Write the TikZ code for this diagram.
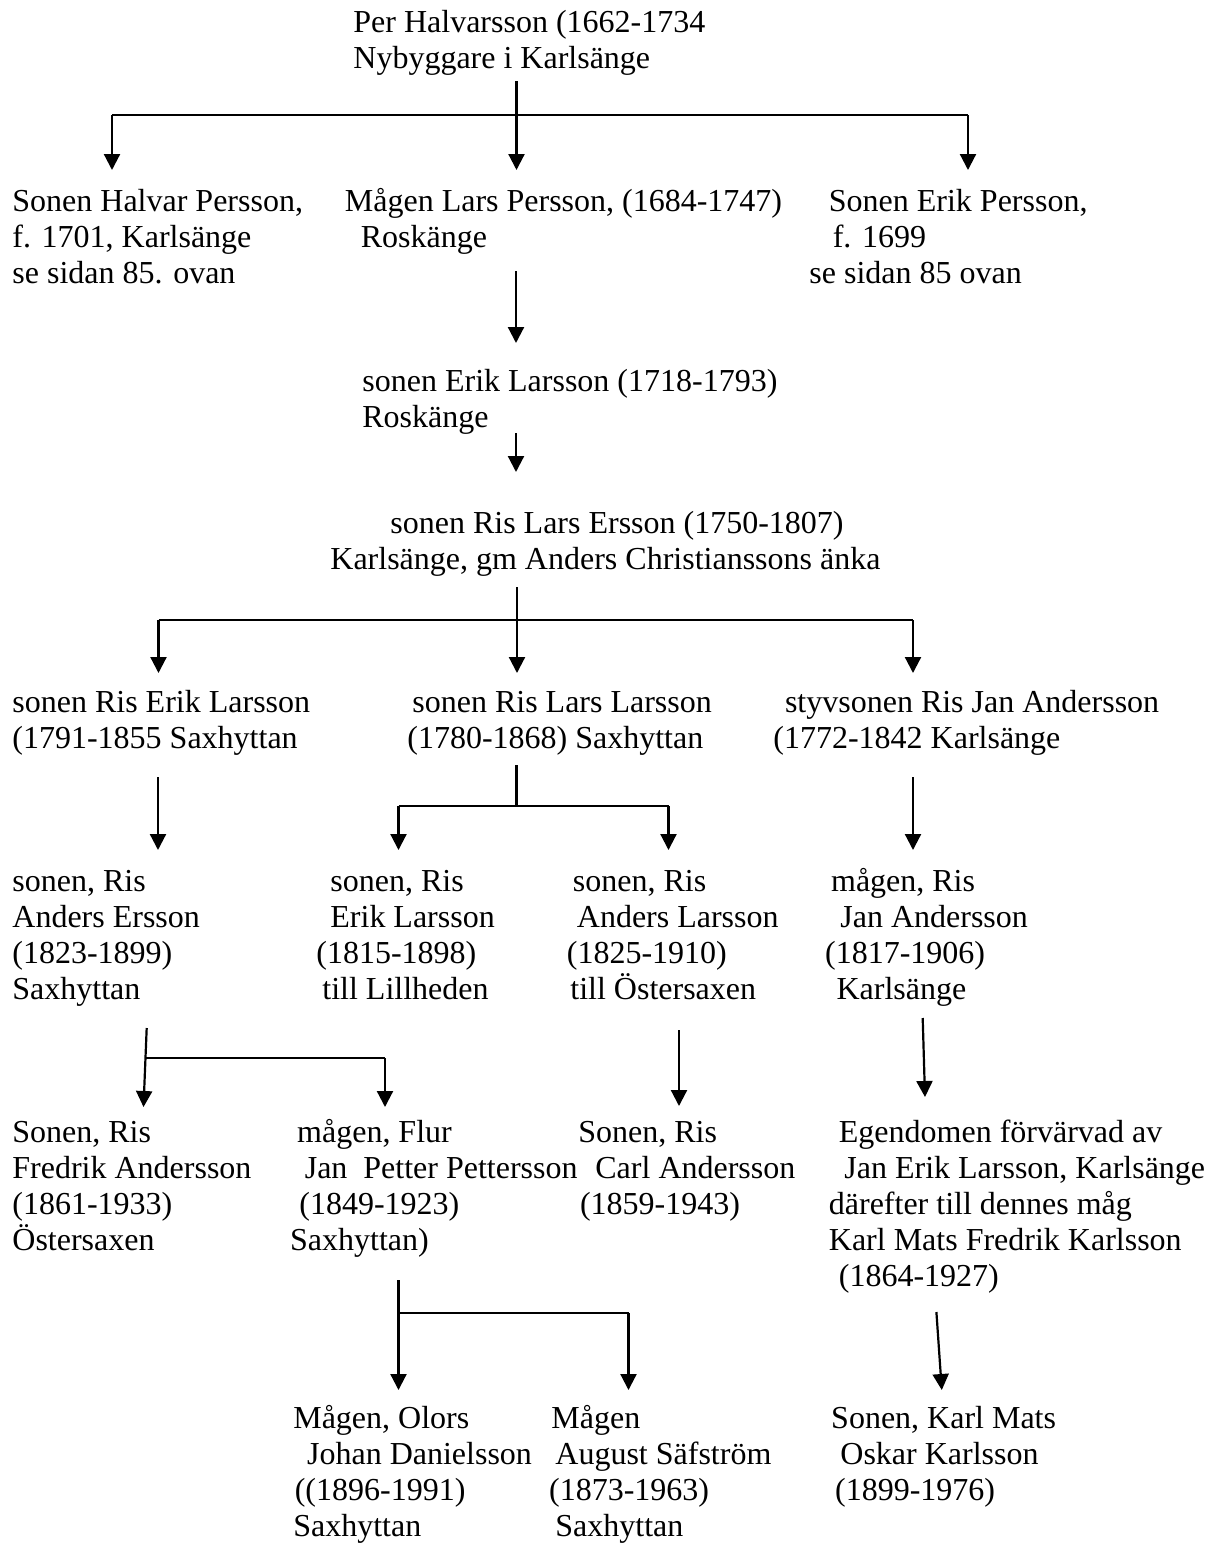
\documentclass[tikz,border=0pt]{standalone}
\usepackage{fontspec}
\setmainfont{Liberation Serif}
\usetikzlibrary{arrows.meta}
\newcommand{\lpad}[1]{\hspace*{0.5\dimexpr #1pt\relax}}
\tikzstyle{person} = [anchor=base west, align=left, inner sep=0pt, font=\fontsize{16}{18}\selectfont]
\tikzstyle{branch} = [line width=1.1pt]
\tikzstyle{arrow} = [line width=1.1pt, -{Triangle[width=8pt,length=8pt]}]

\begin{document}
\begin{tikzpicture}[x=0.5pt, y=-0.5pt]
	\useasboundingbox (0,0) rectangle (1209,1543);

	% nodes sit on the baseline of their last line
	\node (per) [person] at (353,68) {Per Halvarsson (1662-1734\\Nybyggare i Karlsänge};

	\node (halvar) [person] at (12,283) {Sonen Halvar Persson,\\f. 1701, Karlsänge\\se sidan 85. ovan};
	\node (larsp) [person] at (344.5,247) {Mågen Lars Persson, (1684-1747)\\\lpad{16}Roskänge};
	\node (erikp) [person] at (809,283) {\lpad{19.5}Sonen Erik Persson,\\\lpad{23.4}f. 1699\\se sidan 85 ovan};

	\node (erikl) [person] at (362,427) {sonen Erik Larsson (1718-1793)\\Roskänge};

	\node (larse) [person] at (330,569) {\lpad{60}sonen Ris Lars Ersson (1750-1807)\\Karlsänge, gm Anders Christianssons änka};

	\node (rerik) [person] at (12,748) {sonen Ris Erik Larsson\\(1791-1855 Saxhyttan};
	\node (rlars) [person] at (407,748) {\lpad{5}sonen Ris Lars Larsson\\(1780-1868) Saxhyttan};
	\node (rjan) [person] at (773,748) {\lpad{11.6}styvsonen Ris Jan Andersson\\(1772-1842 Karlsänge};

	\node (randers) [person] at (12,999) {sonen, Ris\\Anders Ersson\\(1823-1899)\\Saxhyttan};
	\node (rerikl) [person] at (316,999) {\lpad{14}sonen, Ris\\\lpad{14}Erik Larsson\\(1815-1898)\\\lpad{6}till Lillheden};
	\node (randersl) [person] at (566.5,999) {\lpad{6}sonen, Ris\\\lpad{10}Anders Larsson\\(1825-1910)\\\lpad{3.5}till Östersaxen};
	\node (rjana) [person] at (824.7,999) {\lpad{6}mågen, Ris\\\lpad{15.3}Jan Andersson\\(1817-1906)\\\lpad{11.5}Karlsänge};

	\node (rfredrik) [person] at (12,1250) {Sonen, Ris\\Fredrik Andersson\\(1861-1933)\\Östersaxen};
	\node (flur) [person] at (289.8,1250) {\lpad{7}mågen, Flur\\\lpad{14.6}Jan\ \ Petter Pettersson\\\lpad{9.2}(1849-1923)\\Saxhyttan)};
	\node (rcarl) [person] at (578,1214) {Sonen, Ris\\\lpad{17}Carl Andersson\\\lpad{1.6}(1859-1943)};
	\node (egendom) [person] at (828.5,1286) {\lpad{10}Egendomen förvärvad av\\\lpad{15.5}Jan Erik Larsson, Karlsänge\\därefter till dennes måg\\Karl Mats Fredrik Karlsson\\\lpad{10}(1864-1927)};

	\node (olors) [person] at (292.9,1536) {Mågen, Olors\\\lpad{13.8}Johan Danielsson\\\lpad{1.5}((1896-1991)\\Saxhyttan};
	\node (safstrom) [person] at (548.7,1536) {\lpad{2.3}Mågen\\\lpad{6.3}August Säfström\\(1873-1963)\\\lpad{6.3}Saxhyttan};
	\node (oskar) [person] at (830.8,1500) {Sonen, Karl Mats\\\lpad{9.2}Oskar Karlsson\\\lpad{3.9}(1899-1976)};

	\coordinate (perout) at (516.5,81);
	\coordinate (perbar) at (516.5,115);
	\coordinate (halvarin) at (112,170);
	\coordinate (larspin) at (516.5,170);
	\coordinate (erikpin) at (968,170);
	\draw [branch] (halvarin |- perbar) -- (erikpin |- perbar);
	\draw [arrow] (perout) -- (larspin);
	\draw [arrow] (halvarin |- perbar) -- (halvarin);
	\draw [arrow] (erikpin |- perbar) -- (erikpin);

	\coordinate (larspout) at (516,271);
	\coordinate (eriklin) at (516,343);
	\draw [arrow] (larspout) -- (eriklin);

	\coordinate (eriklout) at (516,433);
	\coordinate (larsein) at (516,472);
	\draw [arrow] (eriklout) -- (larsein);

	\coordinate (larseout) at (517,587);
	\coordinate (larsebar) at (517,620);
	\coordinate (rerikin) at (158.5,673);
	\coordinate (rlarsin) at (517,673);
	\coordinate (rjanin) at (913,673);
	\draw [branch] (rerikin |- larsebar) -- (rjanin |- larsebar);
	\draw [arrow] (larseout) -- (rlarsin);
	\draw [arrow] (rerikin |- larsebar) -- (rerikin);
	\draw [arrow] (rjanin |- larsebar) -- (rjanin);

	\coordinate (rerikout) at (158,777);
	\coordinate (randersin) at (158,850);
	\draw [arrow] (rerikout) -- (randersin);

	\coordinate (rlarsout) at (516.5,765);
	\coordinate (rlarsbar) at (516.5,806);
	\coordinate (reriklin) at (398.5,850);
	\coordinate (randerslin) at (668.5,850);
	\draw [branch] (rlarsout) -- (rlarsbar);
	\draw [branch] (reriklin |- rlarsbar) -- (randerslin |- rlarsbar);
	\draw [arrow] (reriklin |- rlarsbar) -- (reriklin);
	\draw [arrow] (randerslin |- rlarsbar) -- (randerslin);

	\coordinate (rjanout) at (913,777);
	\coordinate (rjanain) at (913,850);
	\draw [arrow] (rjanout) -- (rjanain);

	\coordinate (randersout) at (146.7,1028);
	\coordinate (randersbar) at (145.5,1058);
	\coordinate (rfredrikin) at (143.5,1107);
	\coordinate (flurin) at (385,1107);
	\draw [branch] (randersbar) -- (flurin |- randersbar);
	\draw [arrow] (randersout) -- (rfredrikin);
	\draw [arrow] (flurin |- randersbar) -- (flurin);

	\coordinate (randerslout) at (679,1030);
	\coordinate (rcarlin) at (679,1106);
	\draw [arrow] (randerslout) -- (rcarlin);

	\coordinate (rjanaout) at (922.7,1018);
	\coordinate (egendomin) at (925,1097);
	\draw [arrow] (rjanaout) -- (egendomin);

	\coordinate (flurout) at (398.5,1280);
	\coordinate (flurbar) at (398.5,1313);
	\coordinate (olorsin) at (398.5,1390);
	\coordinate (safstromin) at (628.5,1390);
	\draw [branch] (flurbar) -- (safstromin |- flurbar);
	\draw [arrow] (flurout) -- (olorsin);
	\draw [arrow] (safstromin |- flurbar) -- (safstromin);

	\coordinate (egendomout) at (936.4,1312);
	\coordinate (oskarin) at (941.8,1390);
	\draw [arrow] (egendomout) -- (oskarin);
\end{tikzpicture}
\end{document}
